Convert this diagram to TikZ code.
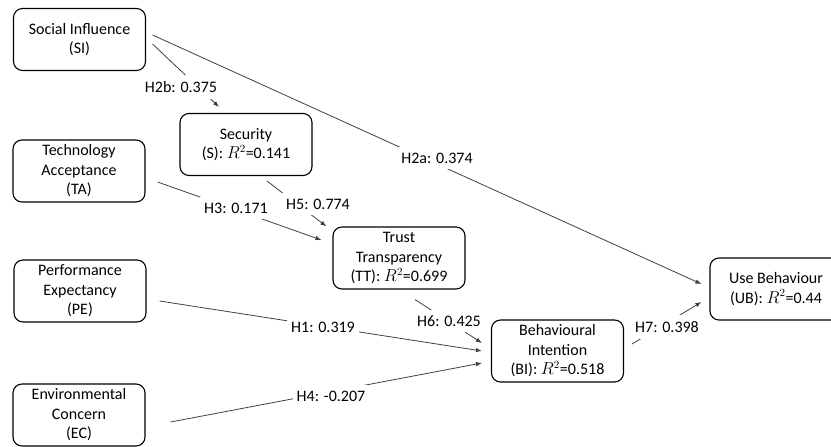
\documentclass[tikz,border=0pt]{standalone}
\usepackage{fontspec}
\setmainfont{Carlito}
\usetikzlibrary{positioning, arrows.meta}

\begin{document}
\begin{tikzpicture}[x=1pt, y=-1pt,
        construct/.style={draw, line width=1.1pt, rounded corners=9pt, minimum width=132pt, minimum height=62pt, align=center, inner sep=2pt, font=\fontsize{16}{19.5}\selectfont},
        link/.style={draw=black!75, line width=0.8pt, -{Latex[length=6pt, width=4.5pt]}},
        coef/.style={fill=white, inner xsep=4pt, inner ysep=6pt, font=\fontsize{16}{19.5}\selectfont}]
        \useasboundingbox (0,0) rectangle (831,447);
        \clip (0,0) rectangle (831,447);
        % constructs
        \node (SI) [construct] at (79.5,39.5) {Social Influence\\(SI)};
        \node (TA) [construct] at (79,171) {Technology\\Acceptance\\(TA)};
        \node (S)  [construct] at (246,144.5) {Security\\(S): $R^2$=0.141};
        \node (TT) [construct] at (399,258) {Trust\\Transparency\\(TT): $R^2$=0.699};
        \node (PE) [construct] at (80,291) {Performance\\Expectancy\\(PE)};
        \node (EC) [construct] at (79,415) {Environmental\\Concern\\(EC)};
        \node (BI) [construct] at (557.5,351) {Behavioural\\Intention\\(BI): $R^2$=0.518};
        \node (UB) [construct] at (776,289) {Use Behaviour\\(UB): $R^2$=0.44};
        % paths
        \draw [link] ([shift={(6.5,4.5)}]SI.east) -- ([shift={(-27,-6)}]S.north);
        \draw [link] ([shift={(6.5,-4.5)}]SI.east) -- ([shift={(-8,-5)}]UB.west);
        \draw [link] ([shift={(12,11)}]TA.east) -- ([shift={(-11,-18)}]TT.west);
        \draw [link] ([shift={(21,5)}]S.south) -- ([shift={(-6,0)}]TT.north west);
        \draw [link] ([shift={(13,10)}]PE.east) -- ([shift={(-9,0)}]BI.west);
        \draw [link] ([shift={(25,7)}]EC.east) -- ([shift={(-9,12)}]BI.west);
        \draw [link] ([shift={(16,10)}]TT.south) -- ([shift={(-9,-8)}]BI.west);
        \draw [link] ([shift={(8,-7)}]BI.east) -- ([shift={(-8,13)}]UB.west);
        % coefficients
        \node (h2b) [coef] at (181,87) {H2b: 0.375};
        \node (h2a) [coef] at (437,158) {H2a: 0.374};
        \node (h3)  [coef] at (236,208) {H3: 0.171};
        \node (h5)  [coef] at (318,204) {H5: 0.774};
        \node (h1)  [coef] at (323,327) {H1: 0.319};
        \node (h4)  [coef] at (331,396) {H4: -0.207};
        \node (h6)  [coef] at (449,321) {H6: 0.425};
        \node (h7)  [coef] at (667,327) {H7: 0.398};
    \end{tikzpicture}
\end{document}
